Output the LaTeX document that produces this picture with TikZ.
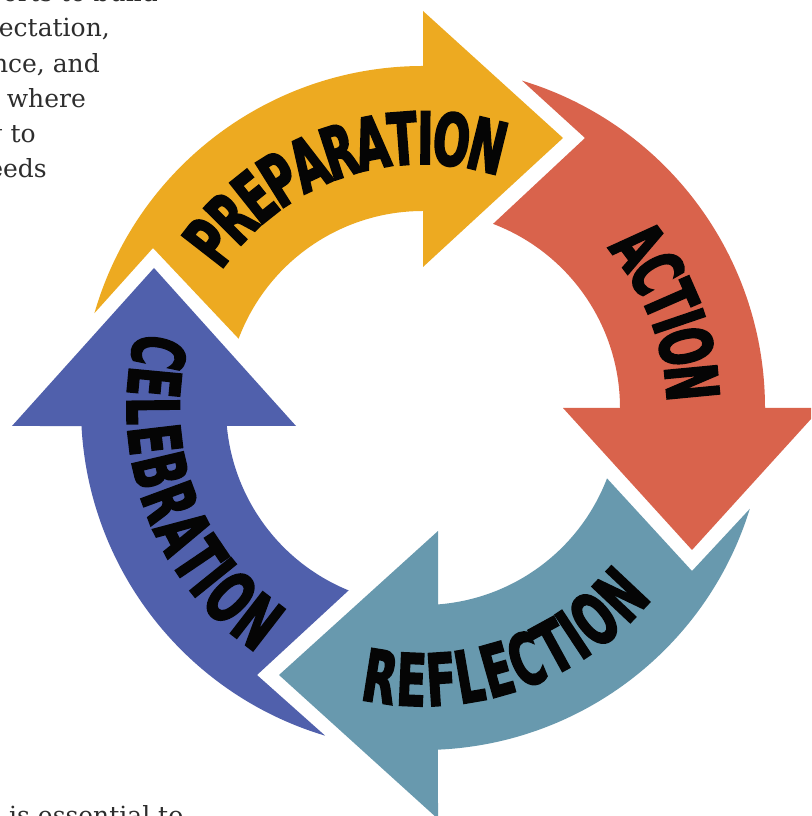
\documentclass[tikz,border=0pt]{standalone}
\usepackage{fontspec}
\usetikzlibrary{decorations.text,calc}
\newfontfamily\arrowfont{DejaVu Sans}[FakeStretch=0.6,FakeBold=2.5]
\newfontfamily\bodyfont{DejaVu Serif}
\definecolor{prepcol}{RGB}{237,170,33}
\definecolor{actcol}{RGB}{217,99,76}
\definecolor{refcol}{RGB}{104,153,174}
\definecolor{celcol}{RGB}{80,96,172}
\definecolor{bodygray}{RGB}{45,45,45}
\definecolor{inkblack}{RGB}{5,5,5}
\begin{document}
\begin{tikzpicture}[x=1pt,y=1pt,
  arrowtext/.style={decorate, decoration={text along path, text align=center, raise=-26pt,
     text color=inkblack,
     text={|\arrowfont\bfseries\fontsize{72}{72}\selectfont|#1}}},
  bodytext/.style={anchor=base east, inner sep=0pt, text=bodygray,
     font=\bodyfont\fontsize{25}{30}\selectfont}]
\fill[white] (0,0) rectangle (811,816);
\clip (0,0) rectangle (811,816);
\coordinate (C) at (423,408);

% PREPARATION (orange)
\fill[prepcol] ($(C)+(163.9:342)$) arc[start angle=163.9, end angle=90, radius=342]
  -- (423,805) -- (563,678) -- (423,549) -- (423,605)
  arc[start angle=90, end angle=159.4, radius=197] -- (153,568) -- cycle;

% ACTION (red)
\fill[actcol] ($(C)+(73.16:342)$) arc[start angle=73.16, end angle=0, radius=342]
  -- (821,408) -- (692,266) -- (563,408) -- (620,408)
  arc[start angle=0, end angle=69.17, radius=197] -- (585,678) -- cycle;

% REFLECTION (teal)
\fill[refcol] ($(C)+(-17.16:342)$) arc[start angle=-17.16, end angle=-87.49, radius=342]
  -- (438,-3) -- (279,141) -- (438,285) -- ($(C)+(-85.63:197)$)
  arc[start angle=-85.63, end angle=-20.93, radius=197] -- (692,245) -- cycle;

% CELEBRATION (blue)
\fill[celcol] ($(C)+(253.37:342)$) arc[start angle=253.37, end angle=183.02, radius=342]
  -- (12,390) -- (154,548) -- (296,390) -- ($(C)+(185.24:197)$)
  arc[start angle=185.24, end angle=247.82, radius=197] -- (257,141) -- cycle;

% labels along the arrows
\path[arrowtext=PREPARATION] ($(C)+(158.9:270)$) arc[start angle=158.9, end angle=58.9, radius=270];
\path[arrowtext=ACTION] ($(C)+(71.1:270)$) arc[start angle=71.1, end angle=-28.9, radius=270];
\path[arrowtext=REFLECTION] ($(C)+(-121.5:272)$) arc[start angle=-121.5, end angle=-20.5, radius=272];
\path[arrowtext=CELEBRATION] ($(C)+(150.4:270)$) arc[start angle=150.4, end angle=250.4, radius=270];

% cut-off body text
\node[bodytext] (t0) at (158,814) {orts to build};
\node[bodytext] (t1) at (110,779) {ectation,};
\node[bodytext] (t2) at (100,743) {nce, and};
\node[bodytext] (t3) at (86,708) {where};
\node[bodytext] (t4) at (36,673) {g to};
\node[bodytext] (t5) at (47,638) {eeds};
\node[bodytext, anchor=base west] (t6) at (9,-9) {is essential to};
\end{tikzpicture}
\end{document}
